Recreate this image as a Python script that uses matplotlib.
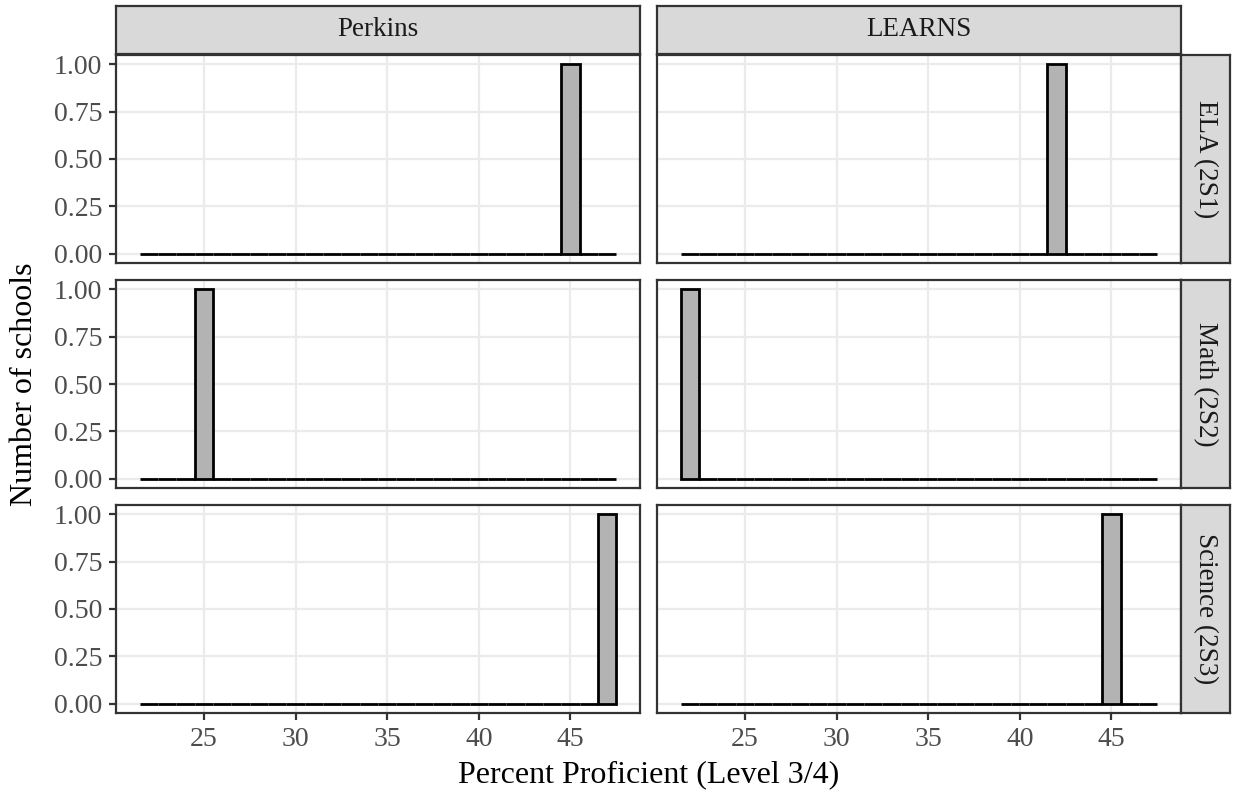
import numpy as np
import matplotlib
matplotlib.use("Agg")
import matplotlib.pyplot as plt

plt.rcParams['font.family'] = ['Liberation Serif', 'DejaVu Serif']

# facets
programs = ["Perkins", "LEARNS"]
subjects = ["ELA (2S1)", "Math (2S2)", "Science (2S3)"]

# one school per panel, percent proficient (level 3/4)
perkins_vals = [45, 25, 47]
learns_vals = [42, 22, 45]

bin_edges = np.arange(21.5, 48.5, 1.0)
y_ticks = [0.0, 0.25, 0.5, 0.75, 1.0]
x_ticks = [25, 30, 35, 40, 45]

W, H = 1233, 794
fig = plt.figure(figsize=(W / 100, H / 100), dpi=100)

col_x = [116, 657]
col_w = 524
row_y = [55, 280, 505]
row_h = 208
strip_top = 6
strip_right_w = 49

dark = "#333333"
grid_c = "#EBEBEB"
tick_c = "#4D4D4D"


def box(x0, y0, w, h):
    return [x0 / W, 1 - (y0 + h) / H, w / W, h / H]


lo, hi = bin_edges[0], bin_edges[-1]
pad_x = 0.05 * (hi - lo)

for c, (prog, vals) in enumerate(zip(programs, [perkins_vals, learns_vals])):
    for r, subj in enumerate(subjects):
        ax = fig.add_axes(box(col_x[c], row_y[r], col_w, row_h))
        counts, _ = np.histogram([vals[r]], bins=bin_edges)
        ax.bar(bin_edges[:-1], counts, width=1.0, align='edge',
               color="#B3B3B3", edgecolor="black", linewidth=2.0, zorder=3)
        ax.set_xlim(lo - pad_x, hi + pad_x)
        ax.set_ylim(-0.05, 1.05)
        ax.set_xticks(x_ticks)
        ax.set_yticks(y_ticks)
        ax.grid(True, color=grid_c, linewidth=1.6, zorder=0)
        ax.set_axisbelow(True)
        for s in ax.spines.values():
            s.set_color(dark)
            s.set_linewidth(1.6)
        ax.tick_params(colors=dark, labelcolor=tick_c, length=5, width=1.6,
                       labelsize=20, pad=5)
        if c == 0:
            ax.set_yticklabels(["0.00", "0.25", "0.50", "0.75", "1.00"])
        else:
            ax.tick_params(axis='y', length=0, labelleft=False)
        if r < 2:
            ax.tick_params(axis='x', length=0, labelbottom=False)

        # column strip on top
        if r == 0:
            sax = fig.add_axes(box(col_x[c], strip_top, col_w, row_y[0] - strip_top - 1))
            sax.set_facecolor("#D9D9D9")
            sax.set_xticks([])
            sax.set_yticks([])
            for s in sax.spines.values():
                s.set_color(dark)
                s.set_linewidth(1.6)
            sax.text(0.5, 0.5, prog, ha='center', va='center', fontsize=19.5,
                     color="#1A1A1A", transform=sax.transAxes)

        # row strip on right
        if c == 1:
            sax = fig.add_axes(box(col_x[1] + col_w, row_y[r], strip_right_w, row_h))
            sax.set_facecolor("#D9D9D9")
            sax.set_xticks([])
            sax.set_yticks([])
            for s in sax.spines.values():
                s.set_color(dark)
                s.set_linewidth(1.6)
            sax.text(0.5, 0.5, subj, ha='center', va='center', fontsize=19.5,
                     color="#1A1A1A", rotation=270, transform=sax.transAxes)

fig.text((col_x[0] + col_x[1] + col_w) / 2 / W, 1 - 775 / H,
         "Percent Proficient (Level 3/4)", ha='center', va='center', fontsize=23)
fig.text(25 / W, 1 - (row_y[0] + row_y[2] + row_h) / 2 / H,
         "Number of schools", ha='center', va='center', fontsize=23, rotation=90)

fig.savefig("out.png", dpi=100, facecolor="white")
